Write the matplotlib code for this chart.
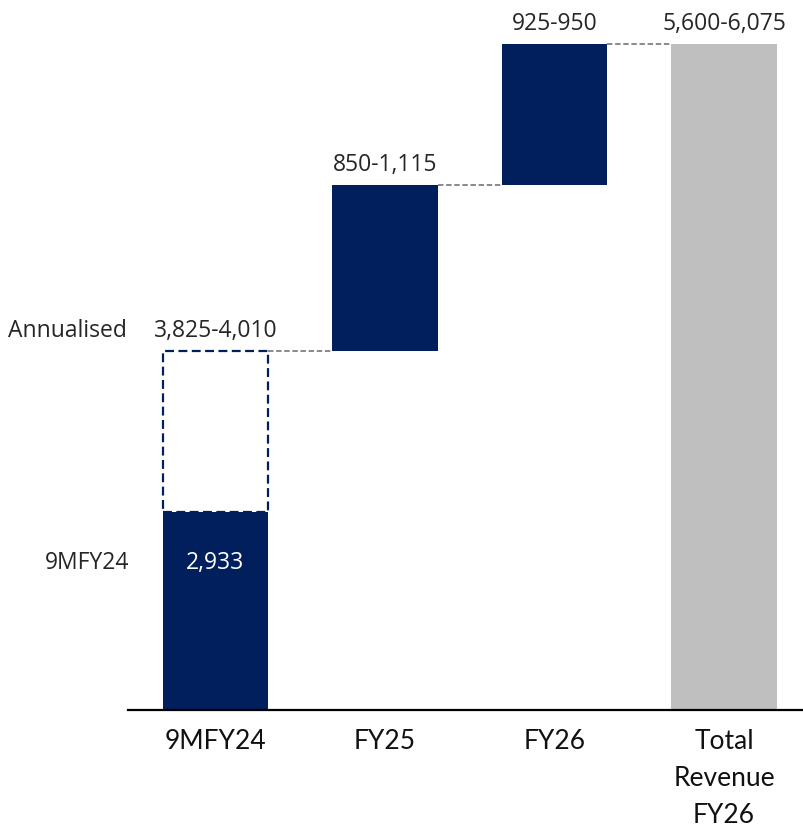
import matplotlib
matplotlib.use("Agg")
import matplotlib.pyplot as plt

# --- revenue bridge, INR cr (upper end of each guided range) ---
categories = ["9MFY24", "FY25", "FY26", "Total\nRevenue\nFY26"]
nine_month = 2933
annualised = 4010
increments = [1115, 950]           # FY25, FY26 additions
total = 6075
range_labels = ["3,825-4,010", "850-1,115", "925-950", "5,600-6,075"]

NAVY = "#001F5C"
GREY = "#BFBFBF"
CONNECTOR = "#808080"
TEXT = "#262626"
LABEL_FONT = ["Open Sans", "DejaVu Sans"]
TICK_FONT = ["Lato", "DejaVu Sans"]

fig = plt.figure(figsize=(8.04, 8.32), dpi=100)
ax = fig.add_axes([128 / 804, 122 / 832, 676 / 804, 710 / 832])

x = list(range(len(categories)))
width = 0.62

# stacked positions for the floating bars
bottoms = [annualised]
for inc in increments[:-1]:
    bottoms.append(bottoms[-1] + inc)
tops = [b + inc for b, inc in zip(bottoms, increments)]

# 9M actual plus the dashed annualised extension
ax.bar(x[0], nine_month, width=width, color=NAVY, zorder=2)
ax.bar(x[0], annualised - nine_month, bottom=nine_month, width=width,
       facecolor="white", edgecolor=NAVY, linestyle=(0, (4, 2)),
       linewidth=1.6, zorder=2)

# FY25 / FY26 floating steps
ax.bar(x[1:3], increments, bottom=bottoms, width=width, color=NAVY, zorder=2)

# total
ax.bar(x[3], total, width=width, color=GREY, zorder=2)

# dashed connectors between bar tops
levels = [annualised] + tops
for i, lvl in enumerate(levels):
    ax.plot([x[i] + width / 2, x[i + 1] - width / 2], [lvl, lvl],
            color=CONNECTOR, linestyle=(0, (3, 1.5)), linewidth=1.3, zorder=1)

# range labels above each bar
label_y = [annualised, tops[0], tops[1], total]
for xi, yi, txt in zip(x, label_y, range_labels):
    ax.annotate(txt, xy=(xi, yi), xytext=(0, 10), textcoords="offset points",
                ha="center", va="baseline", fontsize=16.5, color=TEXT,
                family=LABEL_FONT)

# in-bar value and row captions sit at a fixed height above the axis
inner_y = 0.207
ax.text(x[0], inner_y, f"{nine_month:,}", transform=ax.get_xaxis_transform(),
        ha="center", va="center", fontsize=16.5, color="white",
        family=LABEL_FONT)
ax.annotate("9MFY24", xy=(0, inner_y), xycoords="axes fraction",
            xytext=(1, 0), textcoords="offset points",
            ha="right", va="center", fontsize=16.5, color=TEXT,
            family=LABEL_FONT)
ax.annotate("Annualised", xy=(0, annualised),
            xycoords=ax.get_yaxis_transform(),
            xytext=(-1, 10), textcoords="offset points",
            ha="right", va="baseline", fontsize=16.5, color=TEXT,
            family=LABEL_FONT)

ax.set_xlim(-0.516, 3.472)
ax.set_ylim(1600, 6370)

ax.set_xticks(x)
ax.set_xticklabels(categories, family=TICK_FONT, fontsize=19,
                   linespacing=1.6, color="#111111")
ax.tick_params(axis="x", length=0, pad=14)
ax.set_yticks([])
for side in ("left", "right", "top"):
    ax.spines[side].set_visible(False)
ax.spines["bottom"].set_linewidth(1.6)
ax.spines["bottom"].set_color("black")

fig.savefig("out.png", dpi=100)
